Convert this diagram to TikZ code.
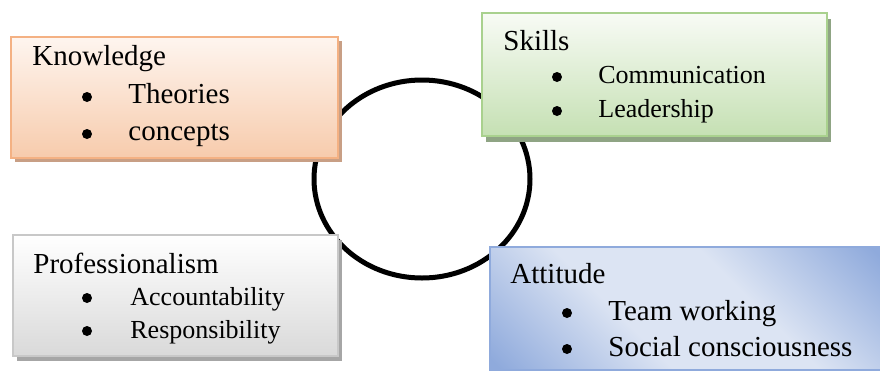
\documentclass[tikz,border=0pt]{standalone}
\usepackage{fontspec}
\setmainfont{Liberation Serif}
\usetikzlibrary{shadows}

\definecolor{peachtop}{HTML}{FEF5EF}
\definecolor{peachbot}{HTML}{F7CBAC}
\definecolor{peachline}{HTML}{F4B183}
\definecolor{peachshadow}{HTML}{C89F85}
\definecolor{greentop}{HTML}{F8FBF5}
\definecolor{greenbot}{HTML}{C5E0B3}
\definecolor{greenline}{HTML}{A9D18E}
\definecolor{greenshadow}{HTML}{8FA484}
\definecolor{greytop}{HTML}{FFFFFF}
\definecolor{greybot}{HTML}{D9D9D9}
\definecolor{greyline}{HTML}{C8C8C8}
\definecolor{greyshadow}{HTML}{A6A6A6}
\definecolor{bluein}{HTML}{DCE4F3}
\definecolor{blueout}{HTML}{8FAADC}

% light band along one diagonal, blue towards the other two corners
\pgfdeclarehorizontalshading{attshade}{100bp}{color(0bp)=(blueout); color(16bp)=(blueout);
  color(40bp)=(bluein); color(60bp)=(bluein); color(84bp)=(blueout); color(100bp)=(blueout)}

\tikzset{
  box/.style={rectangle, inner sep=0pt, anchor=north west, line width=1.2pt},
  title/.style={anchor=base west, inner sep=0pt, font=\fontsize{14.5}{17}\selectfont},
  item/.style={anchor=base west, inner sep=0pt},
  dot/.style={circle, fill=black, inner sep=0pt, minimum size=5pt},
}

\begin{document}
\begin{tikzpicture}[x=0.5pt,y=-0.5pt]
\useasboundingbox (0,0) rectangle (880,371);

% the ring sits behind the boxes
\draw[line width=2.5pt] (422,179) ellipse [x radius=108, y radius=99];

% Knowledge (top left)
\node[box, draw=peachline, top color=peachtop, bottom color=peachbot,
      minimum width=163.5pt, minimum height=60.5pt,
      drop shadow={shadow xshift=1.75pt, shadow yshift=-1.75pt, fill=peachshadow, opacity=1}]
      (knowbox) at (10,36) {};
\node[title] (know) at (32,65) {Knowledge};
\node[dot] (knowdot1) at (87,97) {};
\node[item, font=\fontsize{14.5}{17}\selectfont] (theories) at (128,103) {Theories};
\node[dot] (knowdot2) at (87,134) {};
\node[item, font=\fontsize{14.5}{17}\selectfont] (concepts) at (128,140) {concepts};

% Skills (top right)
\node[box, draw=greenline, top color=greentop, bottom color=greenbot,
      minimum width=172.5pt, minimum height=61.5pt,
      drop shadow={shadow xshift=2pt, shadow yshift=-3pt, fill=greenshadow, opacity=1}]
      (skillbox) at (481,12) {};
\node[title] (skills) at (503,50) {Skills};
\node[dot] (skilldot1) at (557,77) {};
\node[item, font=\fontsize{13}{15}\selectfont] (comm) at (598,83) {Communication};
\node[dot] (skilldot2) at (557,111) {};
\node[item, font=\fontsize{13}{15}\selectfont] (lead) at (598,117) {Leadership};

% Professionalism (bottom left)
\node[box, draw=greyline, top color=greytop, bottom color=greybot,
      minimum width=162.5pt, minimum height=60.5pt,
      drop shadow={shadow xshift=1.75pt, shadow yshift=-2.5pt, fill=greyshadow, opacity=1}]
      (profbox) at (12,234) {};
\node[title] (prof) at (33,273) {Professionalism};
\node[dot] (profdot1) at (87,298) {};
\node[item, font=\fontsize{13}{15}\selectfont] (account) at (130,305) {Accountability};
\node[dot] (profdot2) at (87,331) {};
\node[item, font=\fontsize{13}{15}\selectfont] (respons) at (130,338) {Responsibility};

% Attitude (bottom right)
\node[box, draw=blueout, shading=attshade, shading angle=45,
      minimum width=196pt, minimum height=61.5pt]
      (attbox) at (489,246) {};
\node[title] (att) at (510,283) {Attitude};
\node[dot] (attdot1) at (567,313) {};
\node[item, font=\fontsize{14.5}{17}\selectfont] (team) at (608,320) {Team working};
\node[dot] (attdot2) at (567,349) {};
\node[item, font=\fontsize{14.5}{17}\selectfont] (social) at (608,356) {Social consciousness};

\end{tikzpicture}
\end{document}
